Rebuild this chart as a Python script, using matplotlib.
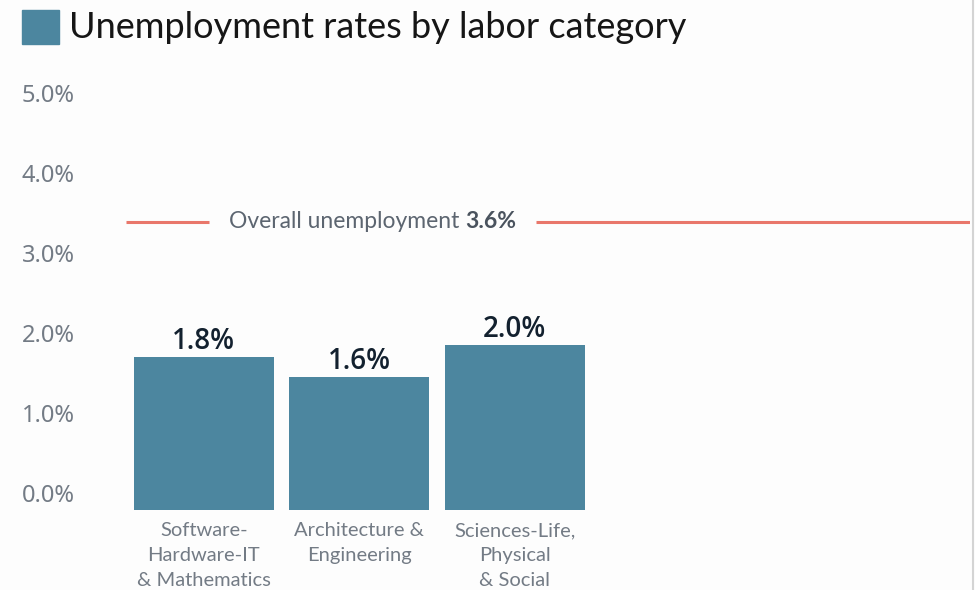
import matplotlib
matplotlib.use("Agg")
import matplotlib.pyplot as plt
import matplotlib.transforms as mtransforms
from matplotlib.patches import Rectangle
from matplotlib.lines import Line2D

# ---- data ----
categories = ["Software-\nHardware-IT\n& Mathematics",
              "Architecture &\nEngineering",
              "Sciences-Life,\nPhysical\n& Social"]
bar_values = [1.91, 1.66, 2.06]          # bar heights as drawn
bar_labels = ["1.8%", "1.6%", "2.0%"]    # printed labels
overall_rate = 3.6
overall_label = "3.6%"
y_ticks = [0, 1, 2, 3, 4, 5]
title = "Unemployment rates by labor category"

BAR = "#4c869f"
BG = "#fdfdfd"
GRAY = "#737b85"
DARK = "#13212f"
RED = "#e9776b"

W, H = 975, 590
fig = plt.figure(figsize=(W / 100, H / 100), dpi=100, facecolor=BG)

ax_left, ax_right = 126, 970
ax_bottom, ax_top = 510, 70
ax = fig.add_axes([ax_left / W, (H - ax_bottom) / H,
                   (ax_right - ax_left) / W, (ax_bottom - ax_top) / H])
ax.set_facecolor(BG)
x = list(range(len(categories)))
ax.bar(x, bar_values, width=0.9, color=BAR, zorder=2)
ax.set_xlim(-0.5, 4.93)
ax.set_ylim(0, 5.5)

for s in ax.spines.values():
    s.set_visible(False)

# value labels
for xi, v, lab in zip(x, bar_values, bar_labels):
    ax.annotate(lab, (xi, v), xytext=(0, 1), textcoords="offset points",
                ha="center", va="bottom", fontsize=20, color=DARK,
                family="Open Sans", fontweight="semibold")

# y ticks
ax.set_yticks(y_ticks)
ax.set_yticklabels([f"{t:.1f}%" for t in y_ticks])
ax.tick_params(axis="y", length=0, pad=75, labelsize=17, labelcolor=GRAY)
off = mtransforms.ScaledTranslation(0, 17 / 100, fig.dpi_scale_trans)
for lab in ax.get_yticklabels():
    lab.set_horizontalalignment("left")
    lab.set_fontfamily("Noto Sans")
    lab.set_transform(lab.get_transform() + off)

# x ticks
ax.set_xticks(x)
ax.set_xticklabels(categories)
ax.tick_params(axis="x", length=0, pad=9, labelsize=14.5, labelcolor=GRAY)
for lab in ax.get_xticklabels():
    lab.set_fontfamily("Lato")
    lab.set_linespacing(1.55)

# overall line with a gap around its label
tx = 1.68
t1 = ax.text(tx, overall_rate, "Overall unemployment ", ha="right", va="center",
             fontsize=16.5, color="#5c6570", family="Lato", zorder=3)
t2 = ax.text(tx, overall_rate, overall_label, ha="left", va="center",
             fontsize=16.5, color="#4a535e", family="Lato", fontweight="bold",
             zorder=3)
fig.canvas.draw()
r = fig.canvas.get_renderer()
inv = ax.transData.inverted()
x0 = inv.transform((t1.get_window_extent(r).x0 - 20, 0))[0]
x1 = inv.transform((t2.get_window_extent(r).x1 + 20, 0))[0]
xl, xr = ax.get_xlim()
ax.plot([xl, x0], [overall_rate, overall_rate], color=RED, lw=2.2, zorder=1,
        solid_capstyle="butt")
ax.plot([x1, xr], [overall_rate, overall_rate], color=RED, lw=2.2, zorder=1,
        solid_capstyle="butt")
ax.set_xlim(xl, xr)

# title
fig.patches.append(Rectangle((22 / W, 1 - 44 / H), 37 / W, 34 / H,
                             transform=fig.transFigure, color=BAR))
fig.text(69 / W, 1 - 28 / H, title, ha="left", va="center",
         fontsize=26, color="#161616", family="Lato")

# right border
fig.add_artist(Line2D([973 / W, 973 / W], [0, 1], transform=fig.transFigure,
                      color="#d4d4d4", lw=1.5))

fig.savefig("out.png", dpi=100, facecolor=BG)
